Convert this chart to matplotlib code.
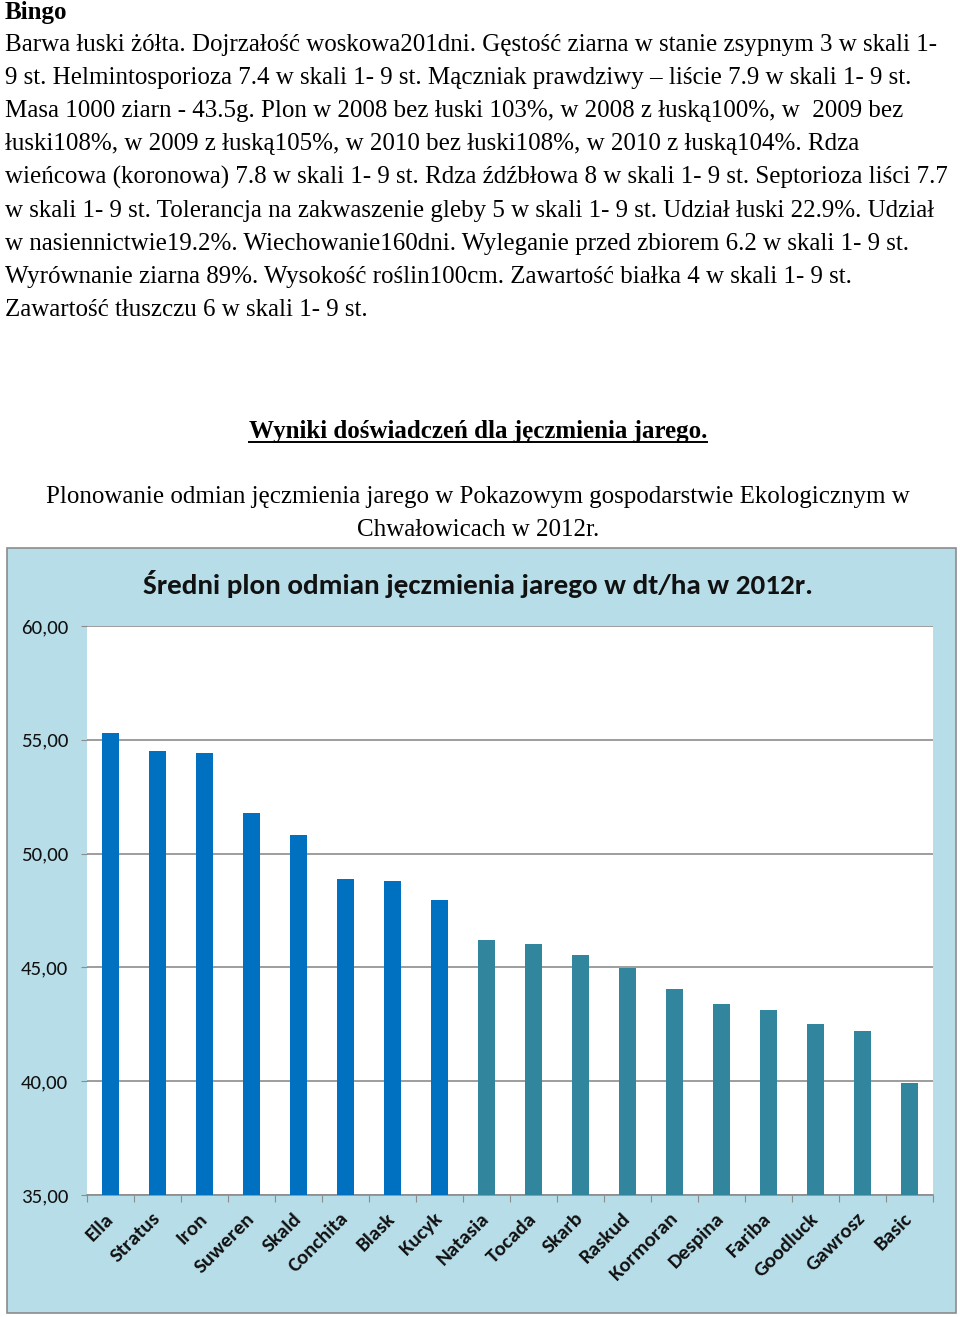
import matplotlib
matplotlib.use("Agg")
import matplotlib.pyplot as plt
from matplotlib.lines import Line2D
from matplotlib.patches import Rectangle

# data
varieties = ["Ella", "Stratus", "Iron", "Suweren", "Skald", "Conchita", "Blask", "Kucyk",
             "Natasia", "Tocada", "Skarb", "Raskud", "Kormoran", "Despina", "Fariba",
             "Goodluck", "Gawrosz", "Basic"]
yields = [55.30, 54.50, 54.42, 51.78, 50.82, 48.88, 48.80, 47.96,
          46.20, 46.05, 45.54, 44.98, 44.05, 43.38, 43.13, 42.53, 42.21, 39.90]
n_blue = 8
y_ticks = [35, 40, 45, 50, 55, 60]
y_tick_labels = ["35,00", "40,00", "45,00", "50,00", "55,00", "60,00"]

doc_title = "Bingo"
doc_lines = [
    "Barwa łuski żółta. Dojrzałość woskowa201dni. Gęstość ziarna w stanie zsypnym 3 w skali 1-",
    "9 st. Helmintosporioza 7.4 w skali 1- 9 st. Mączniak prawdziwy – liście 7.9 w skali 1- 9 st.",
    "Masa 1000 ziarn - 43.5g. Plon w 2008 bez łuski 103%, w 2008 z łuską100%, w  2009 bez",
    "łuski108%, w 2009 z łuską105%, w 2010 bez łuski108%, w 2010 z łuską104%. Rdza",
    "wieńcowa (koronowa) 7.8 w skali 1- 9 st. Rdza źdźbłowa 8 w skali 1- 9 st. Septorioza liści 7.7",
    "w skali 1- 9 st. Tolerancja na zakwaszenie gleby 5 w skali 1- 9 st. Udział łuski 22.9%. Udział",
    "w nasiennictwie19.2%. Wiechowanie160dni. Wyleganie przed zbiorem 6.2 w skali 1- 9 st.",
    "Wyrównanie ziarna 89%. Wysokość roślin100cm. Zawartość białka 4 w skali 1- 9 st.",
    "Zawartość tłuszczu 6 w skali 1- 9 st.",
]
heading = "Wyniki doświadczeń dla jęczmienia jarego."
subtitle = ["Plonowanie odmian jęczmienia jarego w Pokazowym gospodarstwie Ekologicznym w",
            "Chwałowicach w 2012r."]
chart_title = "Średni plon odmian jęczmienia jarego w dt/ha w 2012r."

W, H = 960, 1317
fig = plt.figure(figsize=(W / 100, H / 100), dpi=100)
fig.patch.set_facecolor("white")

def fy(py):
    return 1 - py / H

serif = ["Liberation Serif", "DejaVu Serif"]
sans = ["Carlito", "DejaVu Sans"]

# document text above the chart
fig.text(5 / W, fy(12), doc_title, family=serif, fontsize=18, weight="bold", va="center")
for i, line in enumerate(doc_lines):
    fig.text(5 / W, fy(45 + i * 33.1), line, family=serif, fontsize=18, va="center")

head = fig.text(478 / W, fy(431), heading, family=serif, fontsize=18, weight="bold",
                ha="center", va="center")
fig.text(478 / W, fy(497), subtitle[0], family=serif, fontsize=18, ha="center", va="center")
fig.text(478 / W, fy(530), subtitle[1], family=serif, fontsize=18, ha="center", va="center")

# chart box
fig.patches.append(Rectangle((7 / W, fy(1313)), (956 - 7) / W, (1313 - 548) / H,
                             transform=fig.transFigure, facecolor="#B7DDE8",
                             edgecolor="#8C8C8C", linewidth=1.2, zorder=0))

ax = fig.add_axes([87 / W, fy(1195), (933 - 87) / W, (1195 - 626) / H])
ax.set_zorder(2)
ax.set_facecolor("white")
colors = ["#0070C0"] * n_blue + ["#31859C"] * (len(varieties) - n_blue)
x = range(len(varieties))
ax.bar(x, yields, width=0.38, color=colors, zorder=3)

ax.set_ylim(35, 60)
ax.set_xlim(-0.5, len(varieties) - 0.5)
ax.set_yticks(y_ticks)
ax.set_yticklabels(y_tick_labels, family=sans, fontsize=15, color="#111111")
ax.yaxis.grid(True, color="#8C8C8C", linewidth=1.2, zorder=0)
ax.tick_params(axis="y", length=4.5, color="#8C8C8C", pad=9)

ax.set_xticks([i + 0.5 for i in range(-1, len(varieties))], minor=False)
ax.set_xticklabels([])
ax.set_xticks(list(x), minor=True)
ax.set_xticklabels(varieties, minor=True, rotation=45, ha="right", va="center",
                   rotation_mode="anchor", family=sans, fontsize=15, weight="bold",
                   color="#111111")
ax.tick_params(axis="x", which="major", length=5, color="#8C8C8C", direction="out")
ax.tick_params(axis="x", which="minor", length=0, pad=15)

for side in ["top", "right", "left"]:
    ax.spines[side].set_visible(False)
ax.spines["bottom"].set_color("#8C8C8C")
ax.spines["bottom"].set_linewidth(1.2)

fig.text(478 / W, fy(584), chart_title, family=sans, fontsize=21, weight="bold",
         ha="center", va="center", color="#111111")

# underline the heading
fig.canvas.draw()
bb = head.get_window_extent().transformed(fig.transFigure.inverted())
fig.add_artist(Line2D([bb.x0, bb.x1], [bb.y0 + 0.0005, bb.y0 + 0.0005],
                      transform=fig.transFigure, color="black", linewidth=1.4))

fig.savefig("out.png", dpi=100)
